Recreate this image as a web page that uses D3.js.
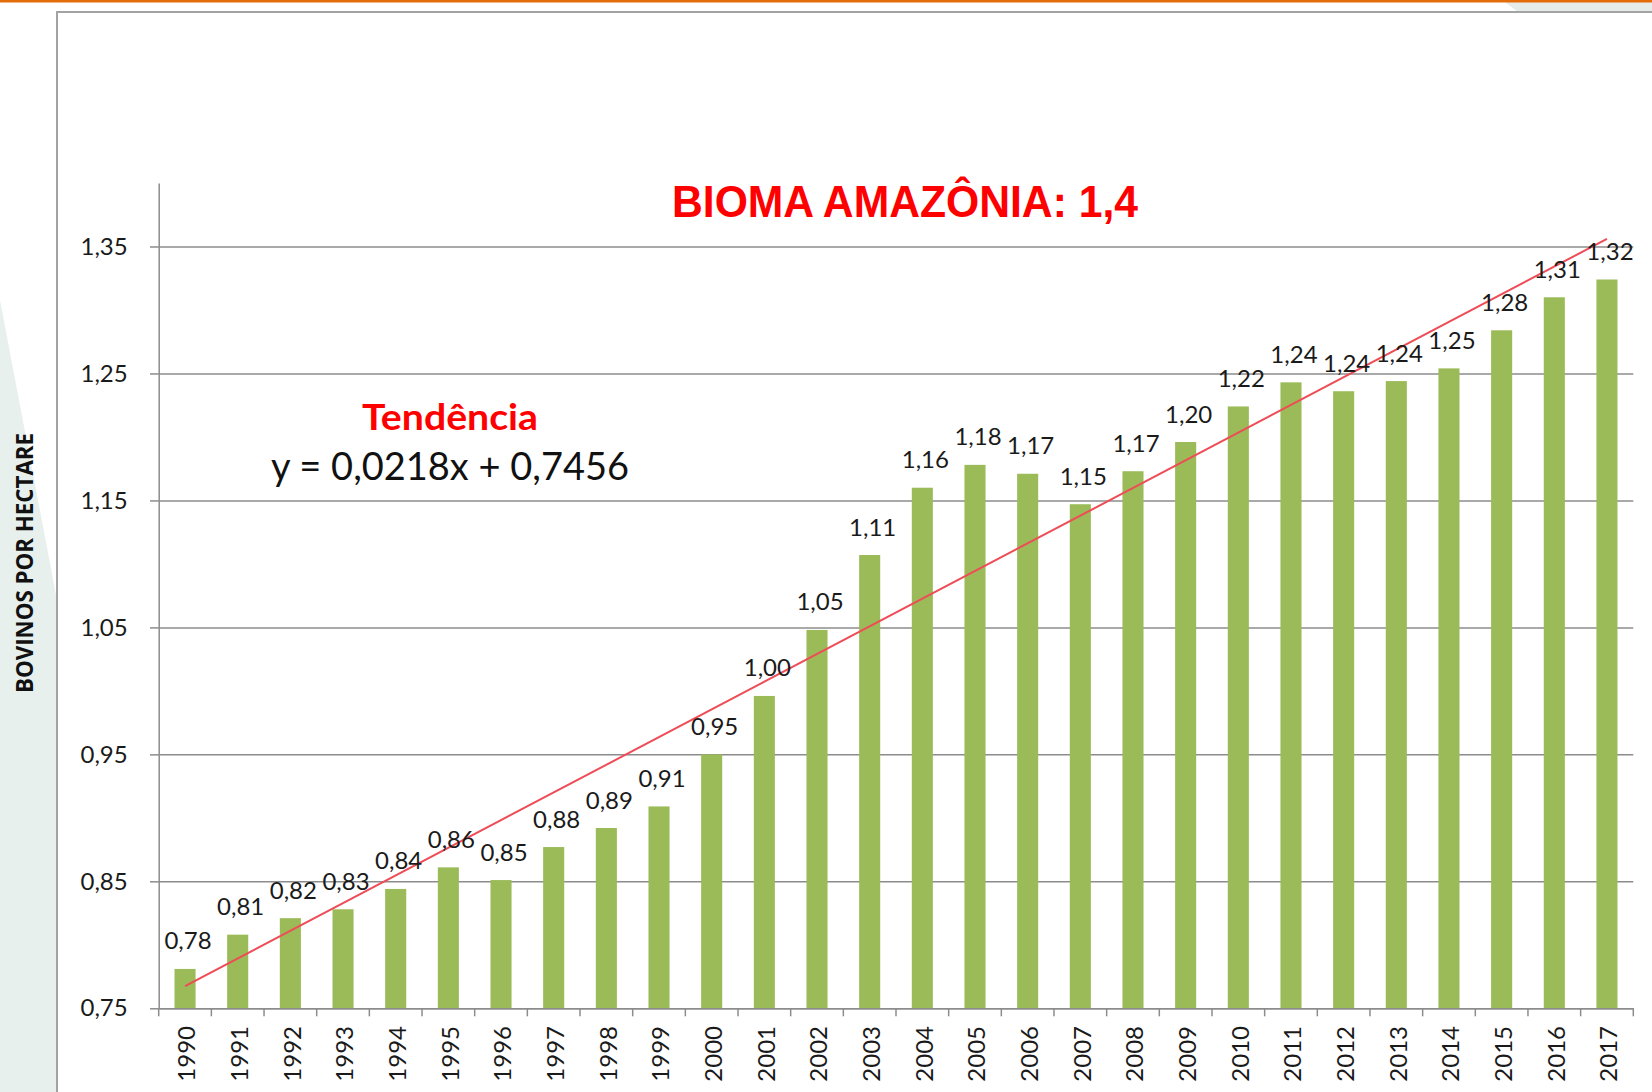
<!DOCTYPE html>
<html>
<head>
<meta charset="utf-8">
<script src="https://cdn.jsdelivr.net/npm/d3@7"></script>
<style>
  body { margin: 0; background: #fff; }
  svg { display: block; }
</style>
</head>
<body>
<svg id="chart" width="1652" height="1092"></svg>
<script>
// Lotação média (bovinos por hectare), 1990–2017
const years = ["1990","1991","1992","1993","1994","1995","1996","1997","1998","1999",
               "2000","2001","2002","2003","2004","2005","2006","2007","2008","2009",
               "2010","2011","2012","2013","2014","2015","2016","2017"];
const values = [0.781, 0.808, 0.821, 0.828, 0.844, 0.861, 0.851, 0.877, 0.892, 0.909,
                0.950, 0.996, 1.048, 1.107, 1.160, 1.178, 1.171, 1.147, 1.173, 1.196,
                1.224, 1.243, 1.236, 1.244, 1.254, 1.284, 1.310, 1.324];
const yTicks = [0.75, 0.85, 0.95, 1.05, 1.15, 1.25, 1.35];
const yDomain = [0.75, 1.40];

// Linear trend: y = a·x + b, x = 1 for the first year
const trendSlope = 0.0218;
const trendIntercept = 0.7456;

const titleText = "BIOMA AMAZÔNIA: 1,4";
const trendTitle = "Tendência";
const trendEquation = "y = 0,0218x + 0,7456";
const yAxisTitle = "BOVINOS POR HECTARE";

const W = 1652, H = 1092;
const plot = { left: 158.7, right: 1633.3, top: 183, bottom: 1008.3 };
const gridColor = "#8c8c8c";
const textColor = "#1a1a1a";
const barColor = "#9bbb59";
const trendColor = "#ee4c56";

const svg = d3.select("#chart");

const ptBR = d3.formatLocale({ decimal: ",", thousands: ".", grouping: [3], currency: ["R$", ""] });
const fmt2 = ptBR.format(".2f");

const x = d3.scaleBand()
  .domain(years)
  .range([plot.left, plot.right])
  .paddingInner(0.6)
  .paddingOuter(0.3);

const y = d3.scaleLinear()
  .domain(yDomain)
  .range([plot.bottom, plot.top]);

// ---- slide background ----
svg.append("rect").attr("width", W).attr("height", H).attr("fill", "#ffffff");
svg.append("rect").attr("x", 0).attr("y", 0).attr("width", 57).attr("height", H).attr("fill", "#e8f0ee");
svg.append("polygon").attr("points", "0,0 57,0 57,600 0,300").attr("fill", "#ffffff");
svg.append("polygon").attr("points", "1505,2 1652,2 1652,12 1518,12").attr("fill", "#e6ecea");
svg.append("rect").attr("x", 0).attr("y", 0).attr("width", W).attr("height", 2.5).attr("fill", "#e46c0a");
svg.append("path")
  .attr("d", `M57,${H} V12 H${W}`)
  .attr("fill", "none")
  .attr("stroke", "#a3a3a3")
  .attr("stroke-width", 2);

// ---- horizontal gridlines ----
svg.append("g")
  .attr("transform", `translate(${plot.left},0)`)
  .call(d3.axisLeft(y).tickValues(yTicks).tickSize(-(plot.right - plot.left)).tickFormat(""))
  .call(g => g.select(".domain").remove())
  .call(g => g.selectAll("line").attr("stroke", gridColor).attr("stroke-width", 1.5));

// ---- y axis with labels ----
svg.append("g")
  .attr("transform", `translate(${plot.left},0)`)
  .call(d3.axisLeft(y).tickValues(yTicks).tickSizeInner(8.7).tickSizeOuter(0).tickPadding(22.3).tickFormat(fmt2))
  .call(g => g.select(".domain").attr("stroke", gridColor).attr("stroke-width", 1.5))
  .call(g => g.selectAll(".tick line").attr("stroke", gridColor).attr("stroke-width", 1.5))
  .call(g => g.selectAll("text")
    .attr("fill", textColor)
    .style("font-family", "Lato, 'Open Sans', sans-serif")
    .style("font-size", "24px"));

// ---- bars ----
svg.append("g")
  .selectAll("rect")
  .data(years)
  .join("rect")
  .attr("x", d => x(d))
  .attr("width", x.bandwidth())
  .attr("y", (d, i) => y(values[i]))
  .attr("height", (d, i) => y(yDomain[0]) - y(values[i]))
  .attr("fill", barColor);

// ---- x axis: line, category boundary ticks, rotated year labels ----
const xAxisG = svg.append("g")
  .attr("transform", `translate(0,${plot.bottom})`)
  .call(d3.axisBottom(x).tickSize(0).tickPadding(0))
  .call(g => g.select(".domain").attr("stroke", gridColor).attr("stroke-width", 1.5))
  .call(g => g.selectAll("text")
    .attr("transform", "rotate(-90)")
    .attr("x", -17.7)
    .attr("y", 2)
    .attr("dy", "0.35em")
    .attr("text-anchor", "end")
    .attr("fill", textColor)
    .style("font-family", "Lato, 'Open Sans', sans-serif")
    .style("font-size", "24px"));

xAxisG.append("g")
  .selectAll("line")
  .data(d3.range(years.length + 1))
  .join("line")
  .attr("x1", i => plot.left + i * x.step())
  .attr("x2", i => plot.left + i * x.step())
  .attr("y1", 0)
  .attr("y2", 8)
  .attr("stroke", gridColor)
  .attr("stroke-width", 1.5);

// ---- trend line ----
const cx = d => x(d) + x.bandwidth() / 2;
const trendPts = [
  [cx(years[0]), y(trendSlope * 1 + trendIntercept)],
  [cx(years[years.length - 1]), y(trendSlope * years.length + trendIntercept)]
];
svg.append("path")
  .attr("d", d3.line()(trendPts))
  .attr("fill", "none")
  .attr("stroke", trendColor)
  .attr("stroke-width", 2);

// ---- value labels ----
svg.append("g")
  .selectAll("text")
  .data(years)
  .join("text")
  .attr("x", d => cx(d) + 3)
  .attr("y", (d, i) => y(values[i]) - 19.5)
  .attr("text-anchor", "middle")
  .attr("fill", textColor)
  .style("font-family", "Lato, 'Open Sans', sans-serif")
  .style("font-size", "24px")
  .text((d, i) => fmt2(values[i]));

// ---- titles ----
svg.append("text")
  .attr("x", 905)
  .attr("y", 217)
  .attr("text-anchor", "middle")
  .attr("fill", "#ff0000")
  .attr("textLength", 466)
  .attr("lengthAdjust", "spacingAndGlyphs")
  .style("font-family", "'Liberation Sans', Arial, sans-serif")
  .style("font-weight", "bold")
  .style("font-size", "45px")
  .text(titleText);

svg.append("text")
  .attr("x", 450)
  .attr("y", 430)
  .attr("text-anchor", "middle")
  .attr("fill", "#ff0000")
  .attr("textLength", 176)
  .attr("lengthAdjust", "spacingAndGlyphs")
  .style("font-family", "Lato, 'Open Sans', sans-serif")
  .style("font-weight", "bold")
  .style("font-size", "37px")
  .text(trendTitle);

svg.append("text")
  .attr("x", 450)
  .attr("y", 480)
  .attr("text-anchor", "middle")
  .attr("fill", "#111111")
  .attr("textLength", 358)
  .attr("lengthAdjust", "spacingAndGlyphs")
  .style("font-family", "Lato, 'Open Sans', sans-serif")
  .style("font-size", "38px")
  .text(trendEquation);

svg.append("text")
  .attr("transform", "translate(33,563) rotate(-90)")
  .attr("text-anchor", "middle")
  .attr("fill", "#111111")
  .attr("textLength", 260)
  .attr("lengthAdjust", "spacingAndGlyphs")
  .style("font-family", "'Open Sans', Lato, sans-serif")
  .style("font-weight", "bold")
  .style("font-size", "24px")
  .text(yAxisTitle);
</script>
</body>
</html>
